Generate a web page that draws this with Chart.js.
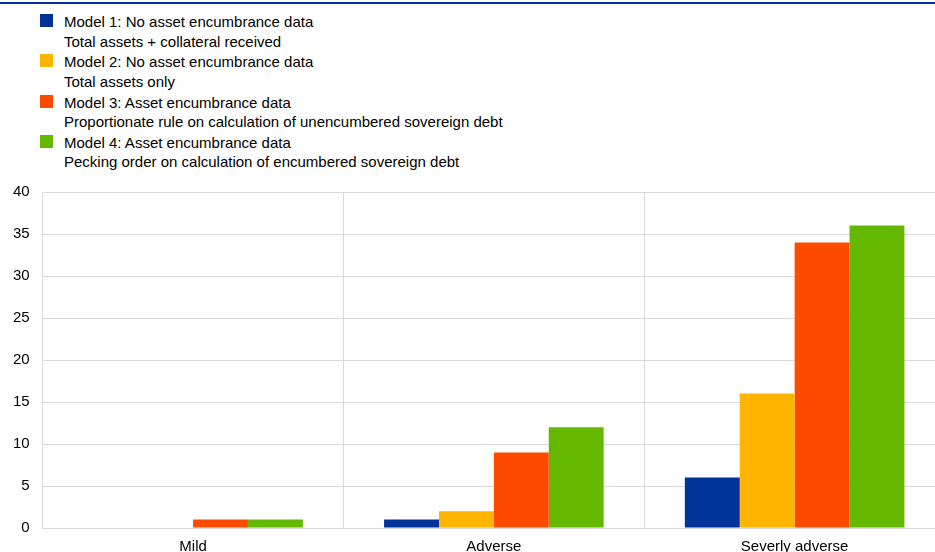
<!DOCTYPE html>
<html>
<head>
<meta charset="utf-8">
<script src="https://cdn.jsdelivr.net/npm/chart.js@4"></script>
<style>
  html, body { margin: 0; padding: 0; background: #fff; overflow: hidden; }
  body { width: 935px; height: 552px; position: relative; font-family: "Liberation Sans", Arial, sans-serif; }
  .topline { position: absolute; left: 0; top: 2px; width: 935px; height: 2px; background: #003299; }
  #legend { position: absolute; left: 40px; top: 12px; font-size: 15px; color: #000; }
  .item { position: relative; padding-left: 24px; line-height: 19.5px; margin-bottom: 1.3px; }
  .box { position: absolute; left: 0; top: 2px; width: 13px; height: 13px; }
  #wrap { position: absolute; left: 0; top: 0; }
</style>
</head>
<body>
<div class="topline"></div>
<div id="legend"></div>
<div id="wrap"><canvas id="chart" width="945" height="566"></canvas></div>
<script>
// scenario categories
const categories = ["Mild", "Adverse", "Severly adverse"];

// series names (two lines each)
const model1Name = ["Model 1: No asset encumbrance data", "Total assets + collateral received"];
const model2Name = ["Model 2: No asset encumbrance data", "Total assets only"];
const model3Name = ["Model 3: Asset encumbrance data", "Proportionate rule on calculation of unencumbered sovereign debt"];
const model4Name = ["Model 4: Asset encumbrance data", "Pecking order on calculation of encumbered sovereign debt"];

// values
const model1 = [0, 1, 6];
const model2 = [0, 2, 16];
const model3 = [1, 9, 34];
const model4 = [1, 12, 36];

const colors = ["#003299", "#ffb400", "#ff4b00", "#65b800"];

const datasets = [
  { label: model1Name, data: model1 },
  { label: model2Name, data: model2 },
  { label: model3Name, data: model3 },
  { label: model4Name, data: model4 },
].map((d, i) => ({
  ...d,
  backgroundColor: colors[i],
  borderWidth: 0,
  barPercentage: 1,
  categoryPercentage: 0.73,
}));

// html legend
const legend = document.getElementById("legend");
datasets.forEach((d) => {
  const item = document.createElement("div");
  item.className = "item";
  const box = document.createElement("span");
  box.className = "box";
  box.style.background = d.backgroundColor;
  item.appendChild(box);
  d.label.forEach((line, j) => {
    if (j > 0) item.appendChild(document.createElement("br"));
    item.appendChild(document.createTextNode(line));
  });
  legend.appendChild(item);
});

Chart.defaults.font.family = '"Liberation Sans", Arial, sans-serif';
Chart.defaults.font.size = 15;
Chart.defaults.color = "#000";

const ctx = document.getElementById("chart").getContext("2d");
new Chart(ctx, {
  type: "bar",
  data: { labels: categories, datasets: datasets },
  options: {
    responsive: false,
    animation: false,
    layout: { padding: { top: 192, left: 0, right: 0, bottom: 0 } },
    plugins: {
      legend: { display: false },
      tooltip: { enabled: false },
    },
    scales: {
      x: {
        grid: { color: "#d9d9d9", drawTicks: false, offset: true },
        border: { color: "#d9d9d9" },
        ticks: { padding: 10 },
      },
      y: {
        min: 0,
        max: 40,
        ticks: { stepSize: 5, padding: 13 },
        grid: { color: "#d9d9d9", drawTicks: false },
        border: { color: "#d9d9d9" },
      },
    },
  },
});
</script>
</body>
</html>
